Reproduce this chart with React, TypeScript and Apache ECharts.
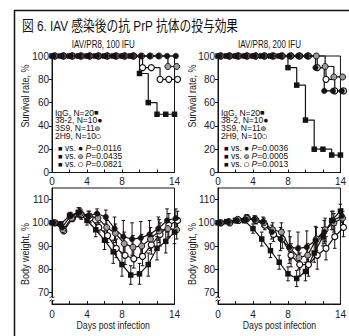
import React, { useEffect, useRef } from "react";
import * as echarts from "echarts";

const TITLE = "図 6. IAV 感染後の抗 PrP 抗体の投与効果";
const SUBTITLES = ["IAV/PR8, 100 IFU", "IAV/PR8, 200 IFU"];
const DAYS = [0, 1, 2, 3, 4, 5, 6, 7, 8, 9, 10, 11, 12, 13, 14];
const GROUPS = ["IgG", "38-2", "3S9", "2H9"];
const GROUP_N = [20, 10, 11, 10];
const DODGE = [0, 0.15, 0.25, 0.35];
const P100 = ["0.0116", "0.0435", "0.0821"];
const P200 = ["0.0036", "0.0005", "0.0013"];
const X_LABELS = [0, 4, 8, 14];
const BW_TICKS = [70, 80, 90, 100, 110];

// Survival rate, % (100 IFU)
const surv100IgG = [100, 100, 100, 100, 100, 100, 100, 100, 100, 100, 85, 60, 50, 50, 50];
const surv100_382 = [100, 100, 100, 100, 100, 100, 100, 100, 100, 100, 100, 100, 100, 100, 100];
const surv100_3S9 = [100, 100, 100, 100, 100, 100, 100, 100, 100, 100, 100, 100, 100, 91, 91];
const surv100_2H9 = [100, 100, 100, 100, 100, 100, 100, 100, 100, 100, 90, 90, 80, 80, 80];
// Survival rate, % (200 IFU)
const surv200IgG = [100, 100, 100, 100, 100, 100, 100, 100, 90, 75, 45, 20, 20, 15, 15];
const surv200_382 = [100, 100, 100, 100, 100, 100, 100, 100, 100, 100, 100, 90, 70, 70, 70];
const surv200_3S9 = [100, 100, 100, 100, 100, 100, 100, 100, 100, 100, 100, 100, 91, 82, 82];
const surv200_2H9 = [100, 100, 100, 100, 100, 100, 100, 100, 100, 100, 100, 90, 80, 70, 70];

// Body weight, % (100 IFU)
const bw100IgG = [100, 99.5, 103, 104.5, 101, 97, 92.5, 87.5, 82, 77.5, 78, 82, 89, 92, 96];
const bw100_382 = [100, 98, 103, 104.5, 103, 104, 102.5, 97.5, 94, 93, 93.5, 95, 97.5, 101, 102];
const bw100_3S9 = [100, 97, 102, 104, 103, 102, 98, 95.5, 91, 89.5, 90, 93, 96.5, 97.5, 97];
const bw100_2H9 = [100, 96.5, 102, 103.5, 102, 98, 94.5, 89, 86, 84.5, 85.5, 90.5, 95, 99, 101];
const err100IgG = [0.5, 1, 1.5, 2, 2, 3, 4, 5, 5, 4, 4.5, 5, 5, 5, 5];
const err100_382 = [0.5, 1, 1.5, 2, 2, 2, 3, 5, 7, 7, 7, 6, 5, 5, 4];
const err100_3S9 = [0.5, 1, 1.5, 2, 2, 2, 3, 4, 5, 5, 5, 5, 5, 4, 4];
const err100_2H9 = [0.5, 1, 1.5, 2, 2, 2, 3, 4, 4, 4, 4, 4, 5, 5, 4];
// Body weight, % (200 IFU)
const bw200IgG = [100, 100.5, 101, 101, 97.5, 93, 88, 83, 78, 76, 79, 87, 94, 101, 105];
const bw200_382 = [100, 100.5, 101, 101.5, 101.5, 100.5, 96, 93, 89.5, 89, 89.5, 92.5, 96, 101, 103];
const bw200_3S9 = [100, 100.5, 101.5, 102, 101.5, 100, 97, 96, 89, 85, 86, 93, 97, 100, 102];
const bw200_2H9 = [100, 100, 101, 102, 101, 99, 95, 93, 86, 82, 82, 86, 89, 94, 98];
const err200IgG = [0.5, 0.8, 1, 1, 2, 3, 3, 3, 3, 3.5, 4, 4, 4, 4, 3];
const err200_382 = [0.5, 0.8, 1, 1.5, 1.5, 2, 3, 5, 7, 7, 7, 6, 5, 4, 3];
const err200_3S9 = [0.5, 0.8, 1, 1.5, 1.5, 2, 3, 4, 5, 5, 5, 5, 5, 4, 3];
const err200_2H9 = [0.5, 0.8, 1, 1.5, 1.5, 2, 3, 4, 5, 5, 5, 6, 5, 5, 4];

const INK = "#161212";
const GREY = "#9d9d9d";
const FONT = "'Liberation Sans', Arial, 'Noto Sans CJK JP', sans-serif";

const SYMBOLS: any[] = [
  { symbol: "rect", size: 5.5, color: INK, border: INK, bw: 0 },
  { symbol: "circle", size: 5.5, color: INK, border: INK, bw: 0.5 },
  { symbol: "circle", size: 6, color: GREY, border: INK, bw: 1 },
  { symbol: "circle", size: 6, color: "#ffffff", border: INK, bw: 1.2 },
];

function lineSeries(grid: number, values: number[], g: number, step: boolean) {
  const s = SYMBOLS[g];
  return {
    type: "line",
    name: GROUPS[g],
    xAxisIndex: grid,
    yAxisIndex: grid,
    data: DAYS.map((d, i) => [d + DODGE[g], values[i]]),
    step: step ? "end" : false,
    symbol: s.symbol,
    symbolSize: s.size,
    showAllSymbol: true,
    clip: false,
    z: 3,
    lineStyle: { color: INK, width: 1.2 },
    itemStyle: { color: s.color, borderColor: s.border, borderWidth: s.bw, opacity: 1 },
  };
}

function errorSeries(grid: number, values: number[], errs: number[], g: number) {
  return {
    type: "custom",
    xAxisIndex: grid,
    yAxisIndex: grid,
    data: DAYS.map((d, i) => [d + DODGE[g], values[i], errs[i]]),
    encode: { x: 0, y: 1 },
    clip: false,
    z: 2,
    renderItem: (_p: any, api: any) => {
      const x = api.value(0);
      const y = api.value(1);
      const e = api.value(2);
      const top = api.coord([x, y + e]);
      const bot = api.coord([x, y - e]);
      const h = 1.8;
      const st = { stroke: INK, lineWidth: 1 };
      return {
        type: "group",
        children: [
          { type: "line", shape: { x1: top[0], y1: top[1], x2: bot[0], y2: bot[1] }, style: st },
          { type: "line", shape: { x1: top[0] - h, y1: top[1], x2: top[0] + h, y2: top[1] }, style: st },
          { type: "line", shape: { x1: bot[0] - h, y1: bot[1], x2: bot[0] + h, y2: bot[1] }, style: st },
        ],
      };
    },
  };
}

const PLOTS = [
  { left: 52, top: 56, width: 122.5, height: 116.5 },
  { left: 218, top: 56, width: 123, height: 116.5 },
  { left: 52, top: 188, width: 122.5, height: 116 },
  { left: 218, top: 188, width: 123, height: 116 },
];

export default function App() {
  const ref = useRef<HTMLDivElement>(null);
  useEffect(() => {
    if (!ref.current) return;
    const chart = echarts.init(ref.current, null, { renderer: "svg" });

    const xAxes = PLOTS.map((_, i) => ({
      type: "value",
      gridIndex: i,
      min: 0,
      max: 14,
      interval: 2,
      axisLine: { show: true, lineStyle: { color: INK, width: 1 } },
      axisTick: { show: true, inside: true, length: 3, lineStyle: { color: INK } },
      axisLabel: { customValues: X_LABELS, fontSize: 10, color: "#222", margin: i < 2 ? 4 : 5, fontFamily: FONT },
      splitLine: { show: false },
    }));
    const yAxes = PLOTS.map((_, i) =>
      i < 2
        ? {
            type: "value",
            gridIndex: i,
            min: 0,
            max: 100,
            interval: 20,
            axisLine: { show: true, lineStyle: { color: INK, width: 1 } },
            axisTick: { show: true, length: 3, lineStyle: { color: INK } },
            axisLabel: { fontSize: 10, color: "#222", margin: 3, fontFamily: FONT },
            splitLine: { show: false },
          }
        : {
            type: "value",
            gridIndex: i,
            min: 65,
            max: 115,
            axisLine: { show: true, lineStyle: { color: INK, width: 1 } },
            axisTick: { show: true, length: 3, customValues: BW_TICKS, lineStyle: { color: INK } },
            axisLabel: { customValues: BW_TICKS, fontSize: 10, color: "#222", margin: 3, fontFamily: FONT },
            splitLine: { show: false },
          }
    );

    const series: any[] = [
      errorSeries(2, bw100_2H9, err100_2H9, 3),
      errorSeries(2, bw100_3S9, err100_3S9, 2),
      errorSeries(2, bw100_382, err100_382, 1),
      errorSeries(2, bw100IgG, err100IgG, 0),
      errorSeries(3, bw200_2H9, err200_2H9, 3),
      errorSeries(3, bw200_3S9, err200_3S9, 2),
      errorSeries(3, bw200_382, err200_382, 1),
      errorSeries(3, bw200IgG, err200IgG, 0),
      lineSeries(0, surv100_2H9, 3, true),
      lineSeries(0, surv100_3S9, 2, true),
      lineSeries(0, surv100_382, 1, true),
      lineSeries(0, surv100IgG, 0, true),
      lineSeries(1, surv200_2H9, 3, true),
      lineSeries(1, surv200_3S9, 2, true),
      lineSeries(1, surv200_382, 1, true),
      lineSeries(1, surv200IgG, 0, true),
      lineSeries(2, bw100_2H9, 3, false),
      lineSeries(2, bw100_3S9, 2, false),
      lineSeries(2, bw100_382, 1, false),
      lineSeries(2, bw100IgG, 0, false),
      lineSeries(3, bw200_2H9, 3, false),
      lineSeries(3, bw200_3S9, 2, false),
      lineSeries(3, bw200_382, 1, false),
      lineSeries(3, bw200IgG, 0, false),
    ];

    const LF = 8.5;
    const rich = {
      sq: { font: `7.5px ${FONT}`, fill: INK },
      bc: { font: `8.5px ${FONT}`, fill: INK },
      gc: { font: `8.5px ${FONT}`, fill: GREY, stroke: INK, lineWidth: 1 },
      oc: { font: `8.5px ${FONT}`, fill: "#ffffff", stroke: INK, lineWidth: 1 },
      i: { font: `italic ${LF}px ${FONT}`, fill: "#111" },
      t: { font: `${LF}px ${FONT}`, fill: "#111" },
    };
    const symTags = ["sq", "bc", "gc", "oc"];
    const legendRows = [112.7, 120.4, 128.2, 136];
    const pRows = [148.3, 156, 164];

    const graphics: any[] = [
      {
        type: "rect",
        shape: { x: 14.5, y: 10.5, width: 400, height: 400 },
        style: { fill: "none", stroke: "#111", lineWidth: 1.5 },
        silent: true,
      },
      {
        type: "text",
        x: 22,
        y: 26,
        scaleX: 0.81,
        style: { text: TITLE, fill: "#111", font: `14.5px ${FONT}`, verticalAlign: "middle", align: "left" },
      },
    ];

    [0, 1].forEach((p) => {
      const plot = PLOTS[p];
      const bplot = PLOTS[p + 2];
      const cx = plot.left + plot.width / 2;
      const nameX = p === 0 ? 25 : 192;
      graphics.push({
        type: "text",
        x: cx - 10,
        y: 45,
        scaleX: 0.8,
        style: { text: SUBTITLES[p], font: `10px ${FONT}`, fill: "#111", align: "center", verticalAlign: "middle" },
      });
      graphics.push({
        type: "text",
        x: nameX,
        y: 96,
        rotation: Math.PI / 2,
        scaleX: 0.9,
        style: { text: "Survival rate, %", font: `10px ${FONT}`, fill: "#222", align: "center", verticalAlign: "middle" },
      });
      graphics.push({
        type: "text",
        x: nameX,
        y: 254,
        rotation: Math.PI / 2,
        scaleX: 0.9,
        style: { text: "Body weight, %", font: `10px ${FONT}`, fill: "#222", align: "center", verticalAlign: "middle" },
      });
      graphics.push({
        type: "text",
        x: bplot.left + bplot.width / 2,
        y: 326,
        scaleX: 0.87,
        style: { text: "Days post infection", font: `10px ${FONT}`, fill: "#222", align: "center", verticalAlign: "middle" },
      });
      const lx = plot.left + 3;
      GROUPS.forEach((g, gi) => {
        graphics.push({
          type: "text",
          x: lx,
          y: legendRows[gi],
          style: {
            text: `{t|${g}, N=${GROUP_N[gi]}}{${symTags[gi]}|${gi === 0 ? "■" : "●"}}`,
            rich,
            verticalAlign: "middle",
            align: "left",
          },
        });
      });
      const ps = p === 0 ? P100 : P200;
      ps.forEach((pv, k) => {
        graphics.push({
          type: "text",
          x: lx + 3,
          y: pRows[k],
          style: {
            text: `{sq|■}{t| vs. }{${symTags[k + 1]}|●}{t| }{i|P}{t|=${pv}}`,
            rich,
            verticalAlign: "middle",
            align: "left",
          },
        });
      });
      // axis break marks on body-weight axis
      const bx = bplot.left;
      graphics.push({
        type: "rect",
        shape: { x: bx - 2.5, y: 297.5, width: 5, height: 3 },
        style: { fill: "#fff", stroke: "none" },
        z: 100,
      });
      graphics.push({
        type: "polyline",
        shape: { points: [[bx - 2.5, 298], [bx - 0.5, 296.5], [bx + 1, 297.8], [bx + 2.5, 296.8]] },
        style: { stroke: INK, lineWidth: 0.9, fill: "none" },
        z: 101,
      });
      graphics.push({
        type: "polyline",
        shape: { points: [[bx - 2.5, 301.2], [bx - 0.5, 299.7], [bx + 1, 301], [bx + 2.5, 300]] },
        style: { stroke: INK, lineWidth: 0.9, fill: "none" },
        z: 101,
      });
    });

    chart.setOption({
      animation: false,
      backgroundColor: "#ffffff",
      textStyle: { fontFamily: FONT },
      grid: PLOTS.map((g) => ({ ...g, show: true, borderColor: INK, borderWidth: 1, backgroundColor: "transparent" })),
      xAxis: xAxes,
      yAxis: yAxes,
      series,
      graphic: graphics,
    });
    return () => chart.dispose();
  }, []);

  return <div ref={ref} style={{ position: "absolute", left: 0, top: 0, width: 349, height: 336 }} />;
}
